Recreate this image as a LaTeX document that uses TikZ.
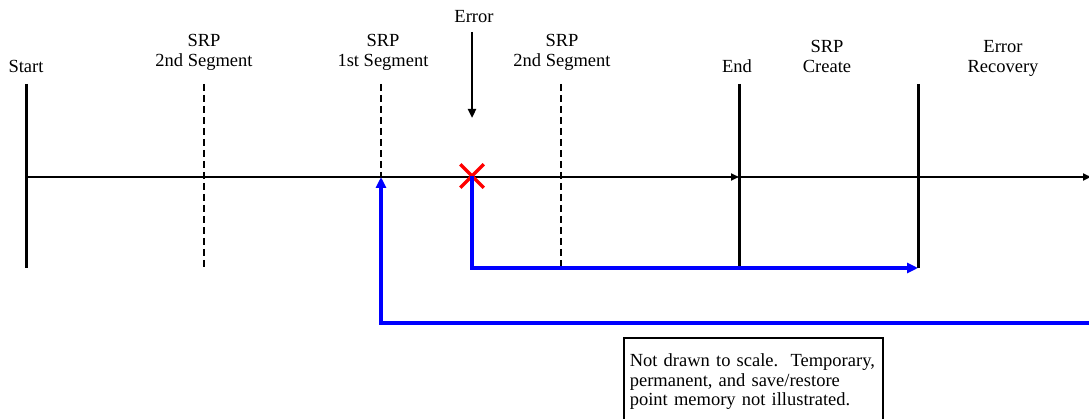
\documentclass[tikz,border=0pt]{standalone}
\usepackage{fontspec}
\setmainfont{Liberation Serif}
\usetikzlibrary{arrows.meta,positioning,shapes.misc}

\begin{document}
\begin{tikzpicture}[x=1pt, y=-1pt,
  lbl/.style={anchor=south, inner sep=0pt, text depth=0pt, align=center,
              font=\fontsize{18.5}{20}\selectfont},
  tick/.style={line width=3pt},
  dtick/.style={line width=2.5pt, dash pattern=on 7pt off 4pt},
  axarr/.style={-{Triangle[length=8pt, width=7pt]}, line width=2.7pt},
  errarr/.style={-{Triangle[length=9pt, width=8pt]}, line width=2.7pt},
  back/.style={-{Triangle[length=11pt, width=10pt]}, draw=blue, line width=3.5pt},
  xmark/.style={cross out, draw=red, line width=3.5pt, minimum size=20pt, inner sep=0pt},
  note/.style={draw, line width=1.6pt, anchor=north west, text width=247pt,
               align=left, inner xsep=6pt, inner ysep=10pt, minimum height=88pt,
               font=\fontsize{18.5}{19.5}\selectfont}
]
\useasboundingbox (0,0) rectangle (1089,419);

% Labels
\node[lbl] (start)   at (26,73)   {Start};
\node[lbl] (segtwo)  at (204,67)  {SRP\\2nd Segment};
\node[lbl] (segone)  at (383,67)  {SRP\\1st Segment};
\node[lbl] (error)   at (474,23)  {Error};
\node[lbl] (segtwob) at (562,67)  {SRP\\2nd Segment};
\node[lbl] (finish)  at (737,73)  {End};
\node[lbl] (create)  at (827,73)  {SRP\\Create};
\node[lbl] (recover) at (1003,73) {Error\\Recovery};

% Tick ends
\coordinate (startT) at (26,84);   \coordinate (startB) at (26,268);
\coordinate (twoT)   at (204,84);  \coordinate (twoB)   at (204,268);
\coordinate (oneT)   at (381,84);  \coordinate (oneM)   at (381,177);
\coordinate (twobT)  at (561,84);  \coordinate (twobB)  at (561,268);
\coordinate (endT)   at (739,84);  \coordinate (endM)   at (739,177);
\coordinate (endB)   at (739,268);
\coordinate (recT)   at (918,84);  \coordinate (recB)   at (918,268);
\coordinate (axL)    at (26,177);  \coordinate (axR)    at (1091,177);
\coordinate (errT)   at (472,32);  \coordinate (errB)   at (472,118);
\coordinate (retR)   at (1095,323);

% Time axis
\draw[axarr] (axL) -- (endM);
\draw[axarr] (endM) -- (axR);

% Ticks
\draw[tick]  (startT) -- (startB);
\draw[dtick] (twoT) -- (twoB);
\draw[dtick] (oneT) -- (oneM);
\draw[dtick] (twobT) -- (twobB);
\draw[tick]  (endT) -- (endB);
\draw[tick]  (recT) -- (recB);

% Error
\draw[errarr] (errT) -- (errB);
\node[xmark] (fail) at (472,176) {};

% Recovery paths
\draw[back] (fail.center) |- (recB);
\draw[back] (retR) -| (oneM);

% Note
\node[note] (remark) at (623,337)
  {Not drawn to scale.\ \ Temporary,\\ permanent, and save/restore\\ point memory not illustrated.};
\end{tikzpicture}
\end{document}
